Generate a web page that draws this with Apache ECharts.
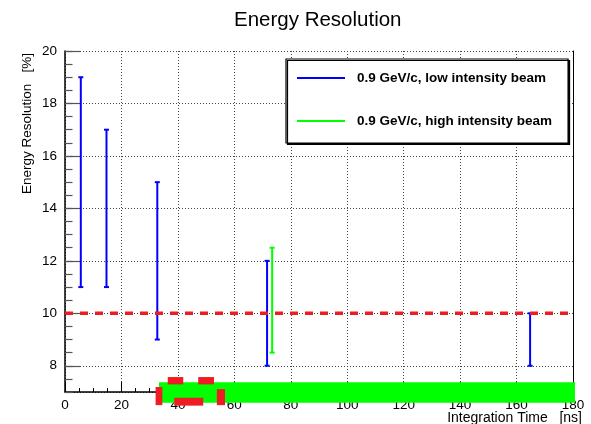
<!DOCTYPE html>
<html><head><meta charset="utf-8">
<script src="https://cdn.jsdelivr.net/npm/echarts@6/dist/echarts.min.js"></script>
<style>html,body{margin:0;padding:0;background:#fff}#c{width:591px;height:424px}</style>
</head><body><div id="c"></div>
<script>
// ---- data ----
const titleText = 'Energy Resolution';
const xTitle = 'Integration Time   [ns]';
const yTitle = 'Energy Resolution   [%]';
const lowName = '0.9 GeV/c, low intensity beam';
const highName = '0.9 GeV/c, high intensity beam';
const lowX = [5.6, 14.7, 32.7, 71.6, 164.8];
const lowMin = [11, 11, 9, 8, 8];
const lowMax = [19, 17, 15, 12, 10];
const highX = [73.4];
const highMin = [8.5];
const highMax = [12.5];
const refX = [0, 180];
const refY = [10, 10];
const greenX0 = [33.3], greenX1 = [180.7], greenY0 = [6.59], greenY1 = [7.37];
const redX0 = [36.4, 47.2, 38.7, 32.1, 53.8];
const redX1 = [41.9, 52.8, 49.0, 34.5, 56.7];
const redY0 = [7.29, 7.29, 6.48, 6.50, 6.50];
const redY1 = [7.57, 7.57, 6.78, 7.19, 7.11];

const FONT = '"Liberation Sans", Arial, Helvetica, sans-serif';
const BLUE = '#0000ff', GREEN = '#00ff00', RED = '#ee1d23';

function errItem(params, api) {
  const x = api.value(0), lo = api.value(1), hi = api.value(2);
  const pt = api.coord([x, hi]), pb = api.coord([x, lo]);
  const c = api.visual('color');
  const w = 2.5;
  const st = {stroke: c, lineWidth: 2};
  return {type: 'group', children: [
    {type: 'line', shape: {x1: pt[0], y1: pt[1], x2: pb[0], y2: pb[1]}, style: st},
    {type: 'line', shape: {x1: pt[0] - w, y1: pt[1], x2: pt[0] + w, y2: pt[1]}, style: st},
    {type: 'line', shape: {x1: pb[0] - w, y1: pb[1], x2: pb[0] + w, y2: pb[1]}, style: st}
  ]};
}
function rectItem(color) {
  return function (params, api) {
    const p0 = api.coord([api.value(0), api.value(3)]);
    const p1 = api.coord([api.value(1), api.value(2)]);
    return {type: 'rect', shape: {x: p0[0], y: p0[1], width: p1[0] - p0[0], height: p1[1] - p0[1]}, style: {fill: color}};
  };
}

const lowData = lowX.map((x, i) => [x, lowMin[i], lowMax[i]]);
const highData = highX.map((x, i) => [x, highMin[i], highMax[i]]);
const greenData = greenX0.map((x, i) => [x, greenX1[i], greenY0[i], greenY1[i]]);
const redData = redX0.map((x, i) => [x, redX1[i], redY0[i], redY1[i]]);
const refData = refX.map((x, i) => [x, refY[i]]);

const chart = echarts.init(document.getElementById('c'), null, {renderer: 'canvas'});
const dotted = {color: '#444', width: 1, type: [1, 2]};
chart.setOption({
  animation: false,
  backgroundColor: '#fff',
  textStyle: {fontFamily: FONT},
  title: {text: titleText, left: 234, top: 10, padding: 0,
    textStyle: {fontFamily: FONT, fontSize: 20.5, fontWeight: 'normal', color: '#000'}},
  grid: {left: 65, right: 18, top: 51, bottom: 32, containLabel: false},
  legend: {
    orient: 'vertical', left: 286, top: 59, padding: [11, 16, 14, 11], itemGap: 27,
    itemWidth: 48, itemHeight: 2, selectedMode: false,
    backgroundColor: '#fff', borderColor: '#000', borderWidth: 1.2,
    shadowColor: '#000', shadowOffsetX: 1.5, shadowOffsetY: 1.5, shadowBlur: 0,
    textStyle: {fontFamily: FONT, fontSize: 13.5, fontWeight: 'bold', color: '#000', lineHeight: 16, padding: [0, 0, 0, 7]},
    data: [{name: lowName, icon: 'rect', itemStyle: {color: BLUE}},
           {name: highName, icon: 'rect', itemStyle: {color: GREEN}}]
  },
  xAxis: {
    type: 'value', min: 0, max: 180, interval: 20,
    axisLine: {show: true, onZero: false, lineStyle: {color: '#000', width: 1.5}},
    axisTick: {show: true, inside: true, length: 10, lineStyle: {color: '#000'}},
    minorTick: {show: true, splitNumber: 4, length: 4, lineStyle: {color: '#000'}},
    axisLabel: {fontFamily: FONT, fontSize: 13.5, color: '#000', margin: 6},
    splitLine: {show: true, lineStyle: dotted}
  },
  yAxis: [
    {type: 'value', min: 7, max: 20, splitNumber: 6, position: 'left',
      axisLine: {show: true, onZero: false, lineStyle: {color: '#000', width: 1.5}},
      axisTick: {show: true, inside: true, length: 15, lineStyle: {color: '#555', width: 1.2}},
      minorTick: {show: false},
      axisLabel: {fontFamily: FONT, fontSize: 13.5, color: '#000', margin: 8, showMinLabel: false},
      splitLine: {show: true, lineStyle: dotted}},
    {type: 'value', min: 7, max: 20, interval: 0.5, position: 'left',
      axisLine: {show: false}, axisLabel: {show: false}, splitLine: {show: false},
      axisTick: {show: true, inside: true, length: 7.5, lineStyle: {color: '#555', width: 1.2}}},
    {type: 'value', min: 7, max: 20, position: 'right',
      axisLine: {show: true, onZero: false, lineStyle: {color: '#000', width: 1}},
      axisTick: {show: false}, axisLabel: {show: false}, splitLine: {show: false}}
  ],
  graphic: [
    {type: 'text', x: 27, y: 53, rotation: Math.PI / 2,
      style: {text: yTitle, font: '13.5px ' + FONT, fill: '#000', align: 'right', verticalAlign: 'middle'}},
    {type: 'text', x: 582, y: 418,
      style: {text: xTitle, font: '14px ' + FONT, fill: '#000', align: 'right', verticalAlign: 'middle'}}
  ],
  series: [
    {type: 'custom', name: lowName, renderItem: errItem, data: lowData, itemStyle: {color: BLUE},
      encode: {x: 0, y: [1, 2]}, z: 3},
    {type: 'custom', name: highName, renderItem: errItem, data: highData, itemStyle: {color: GREEN},
      encode: {x: 0, y: [1, 2]}, z: 3},
    {type: 'line', name: 'ref', data: refData, showSymbol: false, silent: true, z: 4,
      lineStyle: {color: RED, width: 3.5, type: [8, 7]}},
    {type: 'custom', name: 'box', renderItem: rectItem(GREEN), data: greenData, clip: false, silent: true, z: 5,
      encode: {x: [0, 1], y: [2, 3]}},
    {type: 'custom', name: 'dash', renderItem: rectItem(RED), data: redData, clip: false, silent: true, z: 6,
      encode: {x: [0, 1], y: [2, 3]}}
  ]
});
</script></body></html>
